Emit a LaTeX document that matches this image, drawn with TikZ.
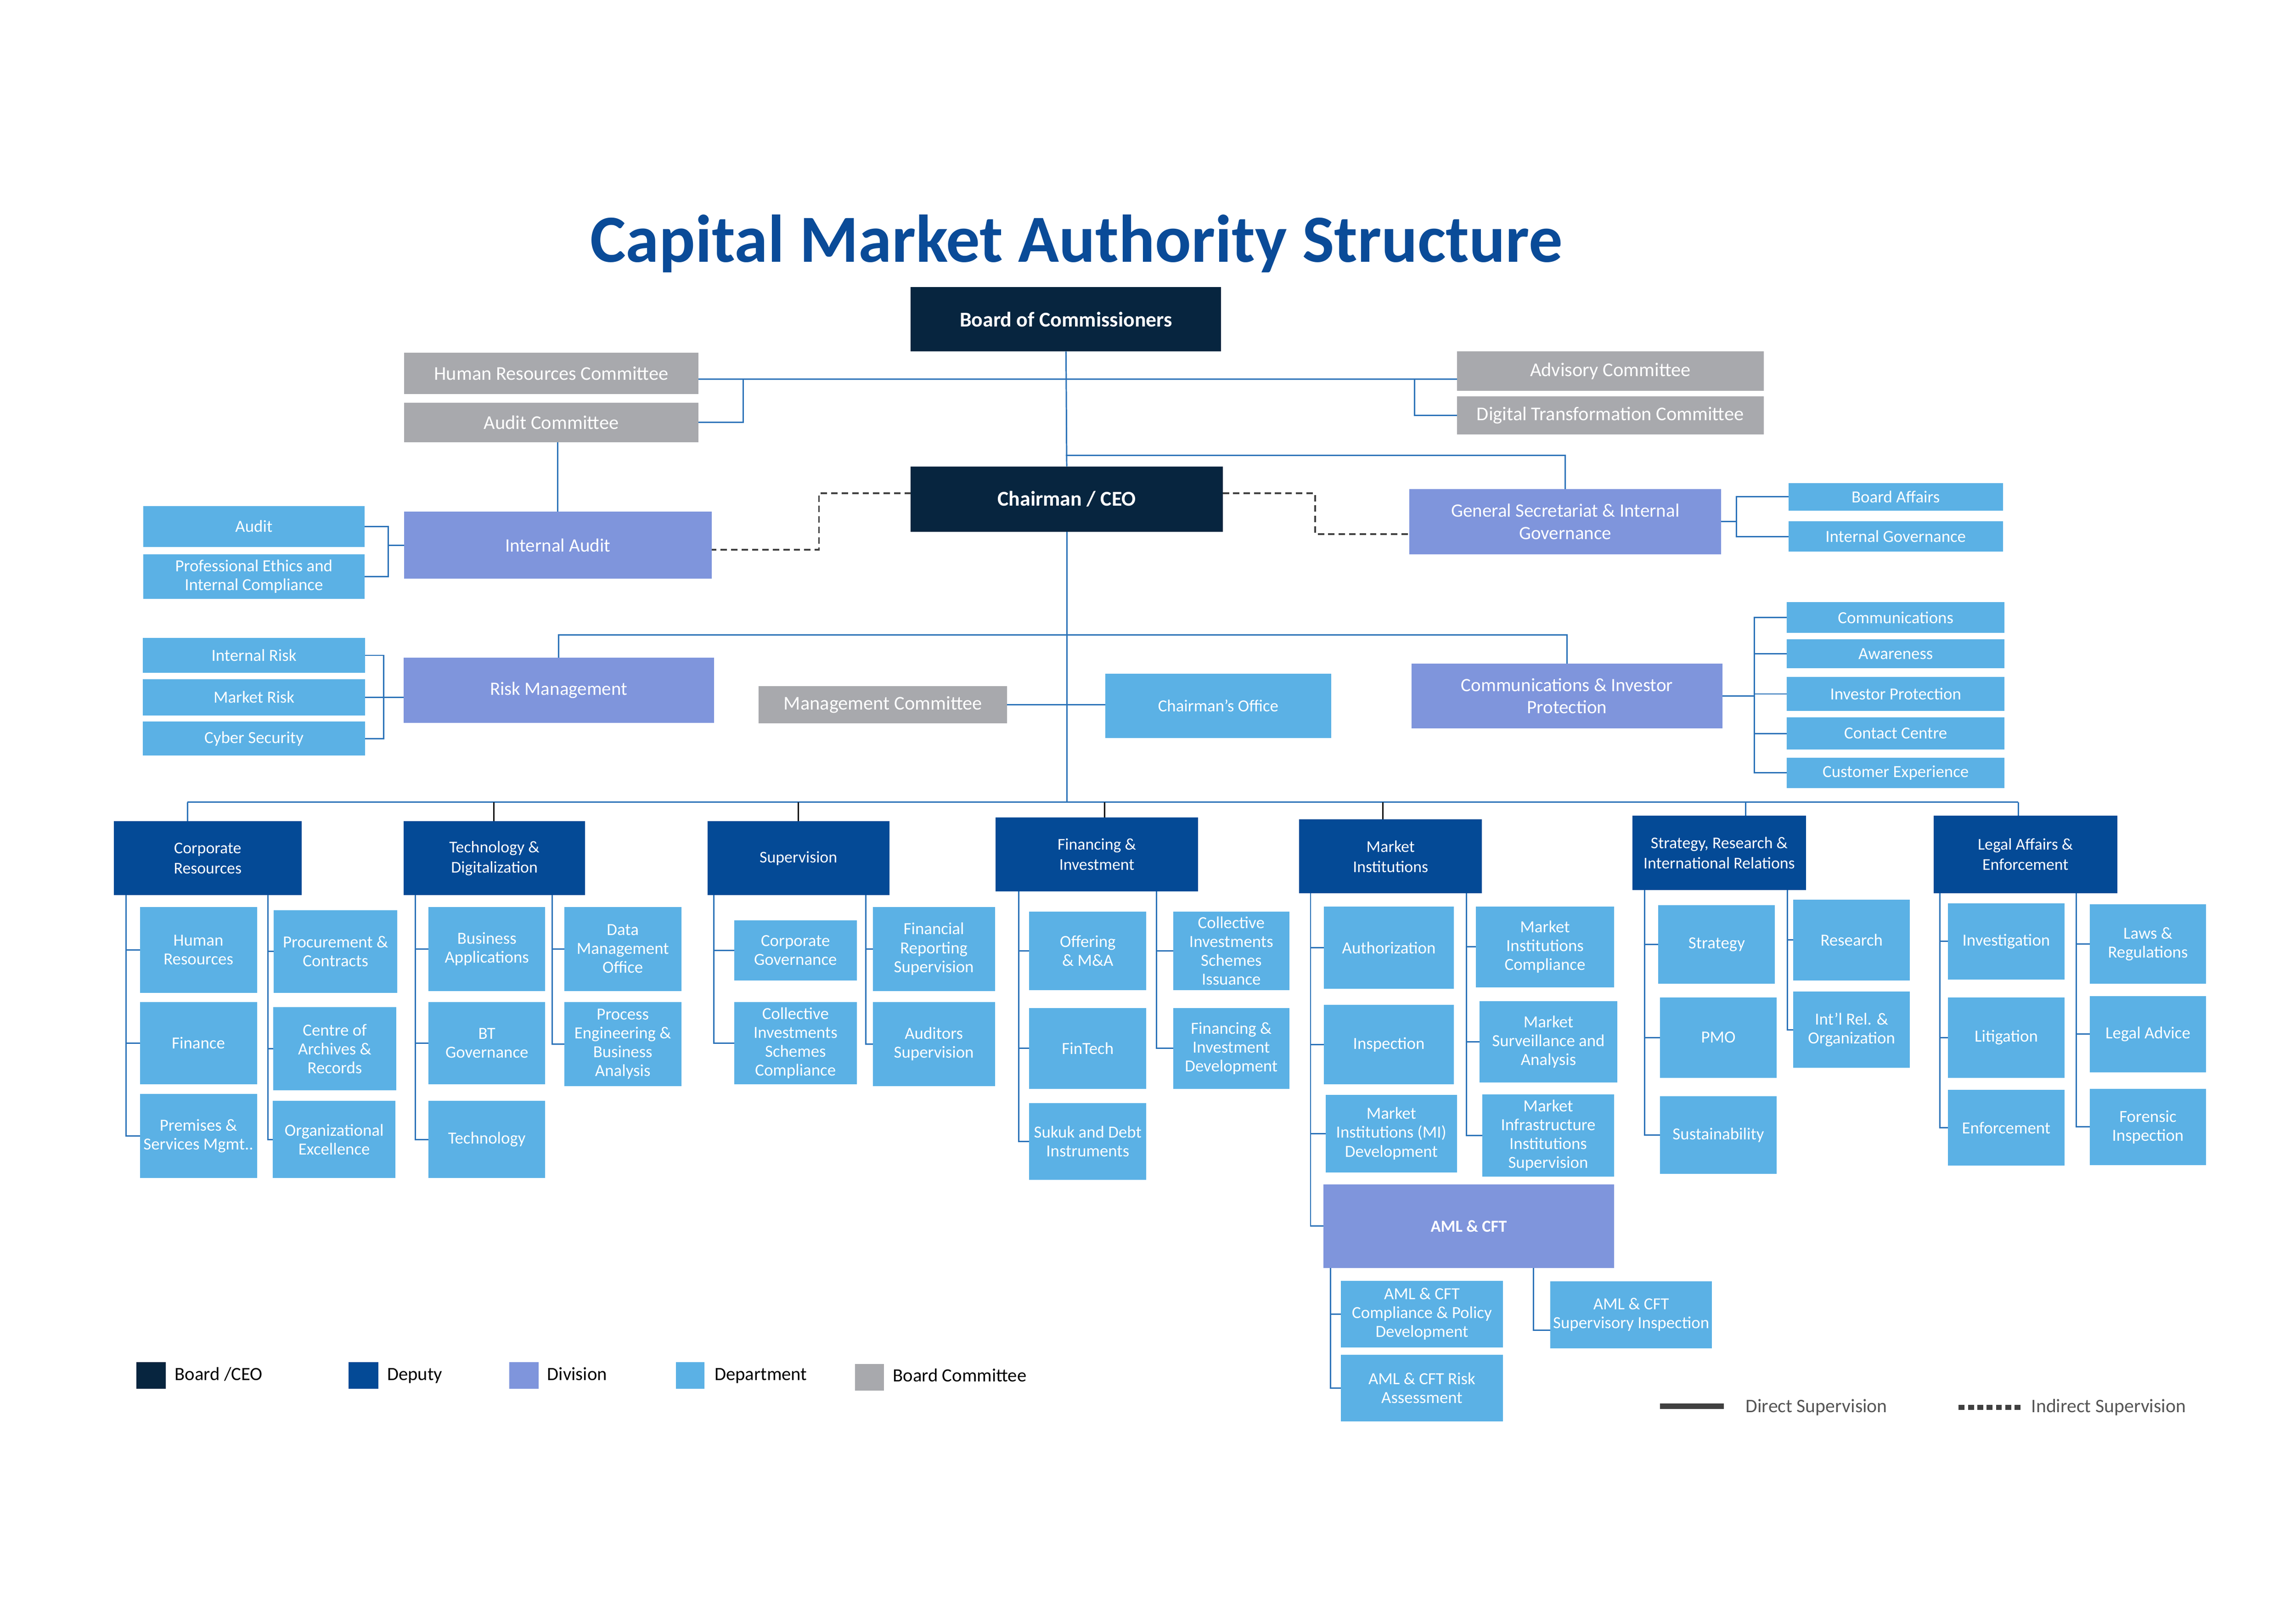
\documentclass[tikz,border=0pt]{standalone}
\usepackage{fontspec}
\setmainfont{Carlito}
\usetikzlibrary{calc}
\definecolor{navy}{HTML}{07253F}
\definecolor{deputy}{HTML}{044A96}
\definecolor{division}{HTML}{7F95DC}
\definecolor{dept}{HTML}{5BB1E5}
\definecolor{cmtgray}{HTML}{A8A9AD}
\definecolor{linecol}{HTML}{2B72B8}
\definecolor{titlecol}{HTML}{0A4B98}
\definecolor{dashcol}{HTML}{404040}
\definecolor{legendgray}{HTML}{555555}
\newcommand{\bx}[7]{\node[#1, minimum width={(#5-#3)*0.3222mm}, minimum height={(#6-#4)*0.3222mm}] (#2) at ({(#3+#5)/2},{(#4+#6)/2}) {#7};}
\newcommand{\colm}[4]{\draw[conn] (#1.south -| #2) |- (#3.west);
  \foreach \n in {#4} {\draw[conn] (\n.west -| #2) -- (\n.west);}}
\begin{document}
\begin{tikzpicture}[x=0.3222mm, y=-0.3222mm,
  box/.style={inner sep=0pt, outer sep=0pt, align=center, text=white, draw=none},
  bcst/.style={box, fill=navy, font=\fontsize{13.2}{15}\selectfont\bfseries},
  depst/.style={box, fill=deputy, font=\fontsize{10.3}{12.6}\selectfont},
  divst/.style={box, fill=division, font=\fontsize{11.8}{14}\selectfont},
  deptst/.style={box, fill=dept, font=\fontsize{10.6}{11.8}\selectfont},
  cmtst/.style={box, fill=cmtgray, font=\fontsize{12.2}{14}\selectfont},
  conn/.style={draw=linecol, line width=0.3mm},
  connk/.style={draw=black, line width=0.3mm},
  indirect/.style={draw=dashcol, line width=0.4mm, dash pattern=on 1.4mm off 0.9mm},
  legtext/.style={anchor=base west, inner sep=0pt, font=\fontsize{11.7}{13}\selectfont},
  legline/.style={anchor=base west, inner sep=0pt, text=legendgray, font=\fontsize{12}{14}\selectfont}]
\fill[white] (0,0) rectangle (1568,1108);
\useasboundingbox (0,0) rectangle (1568,1108);

% title
\node[anchor=base, inner sep=0pt, text=titlecol, font=\fontsize{42.2}{50}\selectfont\bfseries] (title) at (735,179) {Capital Market Authority Structure};

% board and CEO
\bx{bcst}{board}{622}{196}{834}{240}{Board of Commissioners}
\bx{bcst}{ceo}{622}{318.5}{835}{363}{Chairman / CEO}

% committees
\bx{cmtst}{hrc}{276}{241}{477}{269}{Human Resources Committee}
\bx{cmtst}{ac}{276}{275}{477}{302}{Audit Committee}
\bx{cmtst}{adv}{995}{240}{1204.5}{267}{Advisory Committee}
\bx{cmtst}{dtc}{995}{270.6}{1204.5}{296.7}{Digital Transformation Committee}
\bx{cmtst}{mc}{518.2}{468.6}{687.8}{493.8}{Management Committee}

% divisions near CEO
\bx{divst}{ia}{276}{349.5}{486}{395}{Internal Audit}
\bx{deptst}{aud}{97.8}{345.5}{249}{373.4}{Audit}
\bx{deptst}{pe}{97.8}{378.4}{249}{409}{Professional Ethics and\\Internal Compliance}
\bx{divst}{gs}{962.5}{334}{1175.5}{378.4}{General Secretariat \&  Internal\\Governance}
\bx{deptst}{ba}{1221.4}{329.8}{1367.8}{348.6}{Board Affairs}
\bx{deptst}{ig}{1221.4}{356}{1367.8}{376.6}{Internal Governance}
\bx{divst}{rm}{275.5}{449}{487.6}{493.5}{Risk Management}
\bx{deptst}{ir}{97.5}{435.7}{249.4}{459.3}{Internal Risk}
\bx{deptst}{mr}{97.5}{463.7}{249.4}{488.5}{Market Risk}
\bx{deptst}{cs}{97.5}{492.8}{249.4}{516}{Cyber Security}
\bx{deptst}{co}{754.9}{459.9}{909}{504}{Chairman’s Office}
\bx{divst}{cip}{964}{453}{1176.3}{497.5}{Communications \&  Investor\\Protection}
\bx{deptst}{com}{1220.2}{411}{1369}{432.2}{Communications}
\bx{deptst}{awa}{1220.2}{436.5}{1369}{456.3}{Awareness}
\bx{deptst}{ip}{1220.2}{462.2}{1369}{485.5}{Investor Protection}
\bx{deptst}{cc}{1220.2}{489.9}{1369}{511.8}{Contact Centre}
\bx{deptst}{cx}{1220.2}{517.3}{1369}{538.2}{Customer Experience}

% deputies
\bx{depst}{cr}{77.7}{560.8}{206}{611.3}{Corporate\\Resources}
\bx{depst}{td}{275.7}{560.8}{399.6}{611.3}{Technology \&\\Digitalization}
\bx{depst}{sup}{483.1}{560.8}{607.4}{611.3}{Supervision}
\bx{depst}{fi}{680}{558.1}{818.1}{608.6}{Financing \&\\Investment}
\bx{depst}{mi}{887.3}{559.6}{1012}{610}{Market\\Institutions}
\bx{depst}{sr}{1114.9}{557.1}{1233.3}{607.9}{Strategy, Research  \&\\International  Relations}
\bx{depst}{la}{1320.4}{557.1}{1446}{609.8}{Legal Affairs \&\\Enforcement}

% Corporate Resources departments
\bx{deptst}{hr}{95.5}{619.3}{175.5}{678}{Human\\Resources}
\bx{deptst}{fin}{95.5}{684.3}{175.5}{740.3}{Finance}
\bx{deptst}{pre}{95.5}{747}{175.5}{804.4}{Premises \&\\Services Mgmt..}
\bx{deptst}{pro}{187}{621.4}{271.3}{678}{Procurement \&\\Contracts}
\bx{deptst}{arc}{186.5}{687.8}{270.7}{744.5}{Centre of\\Archives \&\\Records}
\bx{deptst}{oe}{186.3}{751.7}{270.1}{804.4}{Organizational\\Excellence}

% Technology departments
\bx{deptst}{bap}{292.7}{619.3}{372.3}{676.6}{Business\\Applications}
\bx{deptst}{btg}{292.7}{684.3}{372.3}{740.4}{BT\\Governance}
\bx{deptst}{tec}{292.7}{751.7}{372.3}{804.4}{Technology}
\bx{deptst}{dmo}{385.3}{619.3}{465.3}{676.6}{Data\\Management\\Office}
\bx{deptst}{peb}{385.3}{684.3}{465.3}{741.6}{Process\\Engineering \&\\Business\\Analysis}

% Supervision departments
\bx{deptst}{cg}{501.3}{628.4}{585.2}{669.6}{Corporate\\Governance}
\bx{deptst}{cic}{501.3}{684.3}{585.2}{740.4}{Collective\\Investments\\Schemes\\Compliance}
\bx{deptst}{frs}{596}{619.3}{679.5}{676.6}{Financial\\Reporting\\Supervision}
\bx{deptst}{as}{596}{684.3}{679.5}{741.6}{Auditors\\Supervision}

% Financing departments
\bx{deptst}{off}{702.9}{622.4}{782.8}{676.2}{Offering\\\& M\&A}
\bx{deptst}{ft}{702.9}{688.2}{782.8}{743.5}{FinTech}
\bx{deptst}{suk}{702.9}{753.3}{782.8}{805.7}{Sukuk and  Debt\\Instruments}
\bx{deptst}{cis}{801.2}{622.4}{880.5}{676.2}{Collective\\Investments\\Schemes\\Issuance}
\bx{deptst}{fid}{801.2}{688.2}{880.5}{743.5}{Financing \&\\Investment\\Development}

% Market Institutions departments
\bx{deptst}{auth}{904}{619}{993}{675.2}{Authorization}
\bx{deptst}{insp}{904}{686.3}{993}{740.5}{Inspection}
\bx{deptst}{mid}{905.3}{747.5}{995}{800.5}{Market\\Institutions (MI)\\Development}
\bx{deptst}{mic}{1007.9}{619}{1102.3}{674.2}{Market\\Institutions\\Compliance}
\bx{deptst}{msa}{1010.5}{683.6}{1104.4}{739.3}{Market\\Surveillance and\\Analysis}
\bx{deptst}{mii}{1012.3}{747.2}{1102.3}{803.5}{Market\\Infrastructure\\Institutions\\Supervision}
\bx{divst, font=\fontsize{10.5}{12}\selectfont\bfseries}{aml}{903.8}{808.8}{1102.3}{865.7}{AML \& CFT}
\bx{deptst}{amlc}{915.8}{874.5}{1026.3}{920.1}{AML \& CFT\\Compliance \& Policy\\Development}
\bx{deptst}{amlr}{915.8}{925.2}{1026.3}{970.6}{AML \& CFT Risk\\Assessment}
\bx{deptst}{amls}{1058.7}{874.9}{1169.2}{920.6}{AML \& CFT\\Supervisory Inspection}

% Strategy departments
\bx{deptst}{str}{1132.5}{618}{1212.2}{671.8}{Strategy}
\bx{deptst}{pmo}{1133.6}{681}{1213.4}{735.9}{PMO}
\bx{deptst}{sus}{1133.6}{748.5}{1213.4}{801.7}{Sustainability}
\bx{deptst}{res}{1224.7}{614.3}{1304.3}{669.5}{Research}
\bx{deptst}{irl}{1224.7}{677.2}{1304.3}{729.2}{Int’l Rel. \&\\Organization}

% Legal departments
\bx{deptst}{inv}{1330.3}{616.7}{1409.9}{669}{Investigation}
\bx{deptst}{lit}{1330.3}{681}{1409.9}{735.9}{Litigation}
\bx{deptst}{enf}{1330.3}{744.2}{1409.9}{796}{Enforcement}
\bx{deptst}{law}{1427.3}{617.5}{1506.4}{671.8}{Laws \&\\Regulations}
\bx{deptst}{lad}{1427.3}{680.1}{1506.4}{732.1}{Legal Advice}
\bx{deptst}{for}{1427.3}{743.5}{1506.4}{795.6}{Forensic\\Inspection}

% ---------- connectors ----------
\coordinate (hl) at (0,259);
\draw[conn] (hrc.east |- hl) -- (adv.west |- hl);
\coordinate (eL) at (507.6,259);
\draw[conn] (eL) |- (ac.east);
\coordinate (eR) at (966,259);
\draw[conn] (eR) |- (dtc.west);
\draw[conn] (board.south) -- (ceo.north);
\coordinate (gsj) at (728,311);
\draw[conn] (gsj) -| (gs.north);
\draw[conn] (ac.south -| ia.north) -- (ia.north);

\coordinate (dL) at (559.3,0);
\coordinate (dR) at (898,0);
\coordinate (c1) at ([yshift=1.3mm]ceo.west);
\coordinate (c2) at ([yshift=-1mm]ia.east);
\draw[indirect] (c1) -- (c1 -| dL) -- (c2 -| dL) -- (c2);
\coordinate (c3) at ([yshift=1.3mm]ceo.east);
\coordinate (c4) at ([yshift=-2.7mm]gs.west);
\draw[indirect] (c3) -- (c3 -| dR) -- (c4 -| dR) -- (c4);

\coordinate (vA) at (265,0);
\draw[conn] (aud.east) -- (aud.east -| vA) -- (pe.east -| vA) -- (pe.east);
\draw[conn] (ia.west) -- (ia.west -| vA);
\coordinate (vR) at (262,0);
\draw[conn] (ir.east) -- (ir.east -| vR) -- (cs.east -| vR) -- (cs.east);
\draw[conn] (mr.east) -- (rm.west |- mr.east);

\coordinate (vG) at (1185.8,0);
\draw[conn] (ba.west) -- (ba.west -| vG) -- (ig.west -| vG) -- (ig.west);
\draw[conn] (gs.east) -- (gs.east -| vG);

\coordinate (vC) at (1198,0);
\draw[conn] (com.west) -- (com.west -| vC) -- (cx.west -| vC) -- (cx.west);
\foreach \n in {awa,ip,cc} {\draw[conn] (\n.west) -- (\n.west -| vC);}
\draw[conn] (cip.east) -- (cip.east -| vC);

\coordinate (rj) at (0,433.7);
\draw[conn] (rm.north) -- (rm.north |- rj) -- (cip.north |- rj) -- (cip.north);
\draw[conn] (mc.east) -- (co.west |- mc.east);

\coordinate (busL) at (128,547.8);
\coordinate (busR) at (1378.3,547.8);
\draw[conn] (ceo.south) -- (ceo.south |- busL);
\draw[conn] (busL) -- (busR);
\draw[conn] (busL) -- (busL |- cr.north);
\coordinate (bTD) at (337.4,547.8);
\coordinate (bSU) at (545.3,547.8);
\coordinate (bFI) at (754.3,547.8);
\coordinate (bMI) at (944.3,547.8);
\coordinate (bSR) at (1192.1,547.8);
\draw[connk] (bTD) -- (bTD |- td.north);
\draw[connk] (bSU) -- (bSU |- sup.north);
\draw[connk] (bFI) -- (bFI |- fi.north);
\draw[connk] (bMI) -- (bMI |- mi.north);
\draw[conn] (bSR) -- (bSR |- sr.north);
\draw[conn] (busR) -- (busR |- la.north);

% column lines
\coordinate (crL) at (86,0);   \coordinate (crR) at (183,0);
\coordinate (tdL) at (283.6,0); \coordinate (tdR) at (377,0);
\coordinate (supL) at (487.5,0); \coordinate (supR) at (591.2,0);
\coordinate (fiL) at (695.8,0); \coordinate (fiR) at (789.9,0);
\coordinate (miL) at (895,0);  \coordinate (miR) at (1001.6,0);
\coordinate (amlL) at (908.7,0); \coordinate (amlR) at (1047.2,0);
\coordinate (srL) at (1123,0); \coordinate (srR) at (1220.7,0);
\coordinate (laL) at (1324.7,0); \coordinate (laR) at (1418,0);

\colm{cr}{crL}{pre}{hr,fin}
\colm{cr}{crR}{oe}{pro,arc}
\colm{td}{tdL}{tec}{bap,btg}
\colm{td}{tdR}{peb}{dmo}
\colm{sup}{supL}{cic}{cg}
\colm{sup}{supR}{as}{frs}
\colm{fi}{fiL}{suk}{off,ft}
\colm{fi}{fiR}{fid}{cis}
\colm{mi}{miL}{aml}{auth,insp,mid}
\colm{mi}{miR}{mii}{mic,msa}
\colm{aml}{amlL}{amlr}{amlc}
\coordinate (c5) at ([yshift=-3.4mm]amls.west);
\draw[conn] (aml.south -| amlR) |- (c5);
\colm{sr}{srL}{sus}{str,pmo}
\colm{sr}{srR}{irl}{res}
\colm{la}{laL}{enf}{inv,lit}
\colm{la}{laR}{for}{law,lad}

% ---------- legend ----------
\bx{box, fill=navy}{l1}{93}{930}{113.3}{948.2}{}
\bx{box, fill=deputy}{l2}{238}{930}{258.4}{948.2}{}
\bx{box, fill=division}{l3}{347.8}{930}{367.7}{948.2}{}
\bx{box, fill=dept}{l4}{461.7}{930}{481.2}{948.2}{}
\bx{box, fill=cmtgray}{l5}{583.9}{931.5}{603.8}{949.6}{}
\node[legtext] (lt1) at (119.2,942.5) {Board /CEO};
\node[legtext] (lt2) at (264.2,942.5) {Deputy};
\node[legtext] (lt3) at (373.5,942.5) {Division};
\node[legtext] (lt4) at (487.8,942.5) {Department};
\node[legtext] (lt5) at (609.6,943.5) {Board Committee};

\coordinate (ld1) at (1133.8,960.3);
\coordinate (ld2) at (1177.3,960.3);
\draw[draw=dashcol, line width=1.2mm] (ld1) -- (ld2);
\node[legline] (lt6) at (1192,964.4) {Direct Supervision};
\coordinate (li1) at (1337.6,961);
\coordinate (li2) at (1380.3,961);
\draw[draw=dashcol, line width=1.1mm, dash pattern=on 1.3mm off 0.75mm] (li1) -- (li2);
\node[legline] (lt7) at (1387,964.4) {Indirect Supervision};
\end{tikzpicture}
\end{document}
